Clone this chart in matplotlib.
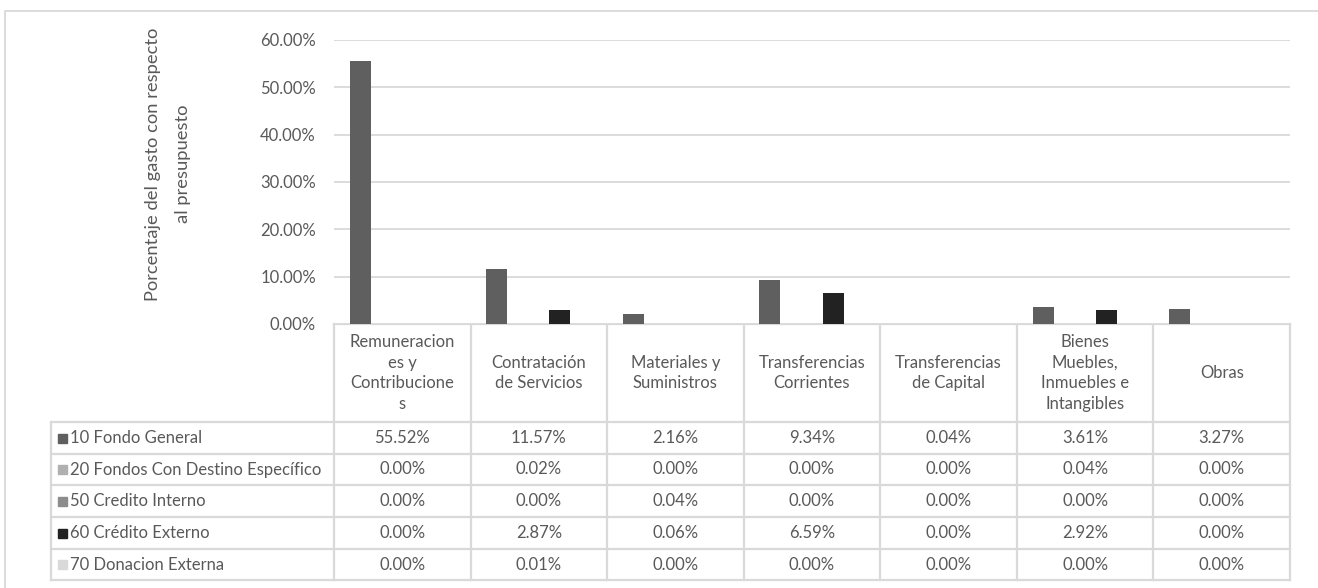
import numpy as np
import matplotlib.pyplot as plt
from matplotlib.patches import Rectangle

plt.rcParams['font.family'] = ['Lato', 'DejaVu Sans']

categories = ["Remuneracion\nes y\nContribucione\ns", "Contratación\nde Servicios",
              "Materiales y\nSuministros", "Transferencias\nCorrientes",
              "Transferencias\nde Capital", "Bienes\nMuebles,\nInmuebles e\nIntangibles",
              "Obras"]

series = ["10 Fondo General", "20 Fondos Con Destino Específico", "50 Credito Interno",
          "60 Crédito Externo", "70 Donacion Externa"]
colors = ["#5f5f5f", "#b0b0b0", "#8c8c8c", "#222222", "#d9d9d9"]

fondo_general = [55.52, 11.57, 2.16, 9.34, 0.04, 3.61, 3.27]
destino_especifico = [0.00, 0.02, 0.00, 0.00, 0.00, 0.04, 0.00]
credito_interno = [0.00, 0.00, 0.04, 0.00, 0.00, 0.00, 0.00]
credito_externo = [0.00, 2.87, 0.06, 6.59, 0.00, 2.92, 0.00]
donacion_externa = [0.00, 0.01, 0.00, 0.00, 0.00, 0.00, 0.00]
values = [fondo_general, destino_especifico, credito_interno, credito_externo, donacion_externa]

W, H = 1318, 588
grid_c = "#d9d9d9"
text_c = "#595959"
fs = 12

fig = plt.figure(figsize=(W / 100, H / 100), dpi=100)

# plot area in pixels
px0, px1, py0, py1 = 334, 1290, 324, 40
ax = fig.add_axes([px0 / W, 1 - py0 / H, (px1 - px0) / W, (py0 - py1) / H])

n = len(series)
slot = n + 1.5  # 150% gap width
bw = 1 / slot
x = np.arange(len(categories))
for j, (name, vals, c) in enumerate(zip(series, values, colors)):
    pos = x + 0.75 * bw + (j + 0.5) * bw
    ax.bar(pos, np.array(vals) / 100, width=bw, color=c, zorder=3)

ax.set_xlim(0, len(categories))
ax.set_ylim(0, 0.6)
ax.set_yticks(np.arange(0, 0.61, 0.1))
ax.set_yticklabels([f"{v * 100:.2f}%" for v in np.arange(0, 0.61, 0.1)])
ax.tick_params(axis='y', length=0, pad=13, labelsize=fs, labelcolor=text_c)
ax.set_xticks([])
ax.grid(axis='y', color=grid_c, lw=1.3, zorder=0)
for s in ax.spines.values():
    s.set_visible(False)

fig.text(168 / W, 1 - 164 / H, "Porcentaje del gasto con respecto\nal presupuesto",
         rotation=90, ha='center', va='center', fontsize=13.2, color=text_c,
         linespacing=2.05)

# data table under the chart, drawn in pixel coordinates
tx = fig.add_axes([0, 0, 1, 1], zorder=-1)
tx.set_xlim(0, W)
tx.set_ylim(H, 0)
tx.axis('off')

# outer chart frame
tx.plot([5, 5, W + 5], [H + 5, 11, 11], color=grid_c, lw=1.3)

edges = px0 + np.arange(len(categories) + 1) * (px1 - px0) / len(categories)
row_y = [324, 422, 454, 485, 517, 549, 580]
tl = 51

lw = 1.6
# horizontal lines
tx.plot([px0, px1], [row_y[0], row_y[0]], color=grid_c, lw=lw)
for y in row_y[1:]:
    tx.plot([tl, px1], [y, y], color=grid_c, lw=lw)
# vertical lines
for e in edges:
    tx.plot([e, e], [row_y[0], row_y[-1]], color=grid_c, lw=lw)
tx.plot([tl, tl], [row_y[1], row_y[-1]], color=grid_c, lw=lw)

for i, cat in enumerate(categories):
    cx = (edges[i] + edges[i + 1]) / 2
    tx.text(cx, (row_y[0] + row_y[1]) / 2, cat, ha='center', va='center',
            fontsize=fs, color=text_c, linespacing=1.35)

for r, (name, vals, c) in enumerate(zip(series, values, colors)):
    yc = (row_y[r + 1] + row_y[r + 2]) / 2
    tx.add_patch(Rectangle((58, yc - 4.5), 9, 9, color=c))
    tx.text(70, yc, name, ha='left', va='center', fontsize=fs, color=text_c)
    for i, v in enumerate(vals):
        cx = (edges[i] + edges[i + 1]) / 2
        tx.text(cx, yc, f"{v:.2f}%", ha='center', va='center', fontsize=fs, color=text_c)

fig.savefig("out.png", dpi=100, facecolor='white')
